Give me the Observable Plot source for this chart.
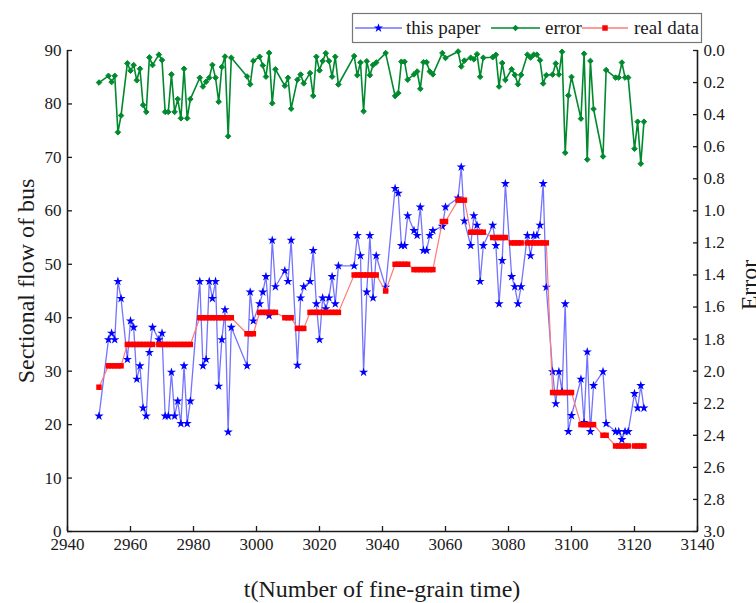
<!DOCTYPE html>
<html><head><meta charset="utf-8">
<script src="https://cdn.jsdelivr.net/npm/d3@7"></script>
<script src="https://cdn.jsdelivr.net/npm/@observablehq/plot@0.6"></script>
<style>body{margin:0;background:#fff}</style>
</head><body><div id="chart"></div>
<script>
const t = [2950,2953,2954,2955,2956,2957,2959,2960,2961,2962,2963,2964,2965,2966,2967,2969,2970,2971,2972,2973,2974,2975,2976,2977,2978,2979,2982,2983,2984,2985,2986,2987,2988,2989,2990,2991,2992,
2997,2998,2999,3001,3002,3003,3004,3005,3006,3009,3010,3011,3013,3014,3015,3017,3018,3019,3020,3021,3022,3023,3024,3025,3026,3031,3032,3033,3034,3035,3036,3037,3038,3041,
3044,3045,3046,3047,3048,3050,3051,3052,3053,3054,3055,3056,3059,3060,3064,3065,3066,3068,3069,3070,3071,3072,3075,3076,3077,3078,3079,3081,3082,3083,3084,3086,3087,3088,3089,3090,3091,3092,
3094,3095,3096,3097,3098,3099,3100,3103,3104,3105,3106,3107,3110,3111,3114,3115,3116,3117,3118,3120,3121,3122,3123];
const flow = [21.6,35.9,37.1,35.9,46.8,43.6,32.2,39.4,38.2,28.5,31.0,23.1,21.6,33.5,38.2,35.9,37.1,21.6,21.6,29.8,21.6,24.4,20.2,31.0,20.2,24.4,46.8,31.0,32.2,46.8,43.6,46.8,27.2,35.9,41.5,18.6,38.2,
31.0,44.8,39.4,42.6,44.8,47.7,40.4,54.5,45.8,48.8,46.8,54.5,31.1,43.7,45.8,46.8,52.6,42.6,35.9,43.7,41.7,43.7,47.7,42.6,49.7,49.7,55.4,51.6,29.8,44.8,55.4,43.7,51.6,45.7,
64.2,63.3,53.5,53.5,59.1,56.3,55.4,60.7,52.6,52.6,55.4,56.3,57.1,60.7,62.4,68.2,58.1,53.5,59.1,57.3,46.8,53.5,57.3,53.5,42.6,50.7,65.1,47.7,45.8,42.6,45.8,55.4,51.6,55.4,55.4,57.3,65.1,45.7,
29.9,23.9,29.9,26.2,42.6,18.7,21.7,28.5,20.4,33.6,18.7,27.3,29.9,20.2,18.7,18.7,17.2,18.7,18.7,25.8,23.1,27.3,23.1];
const real = [27,31,31,31,31,31,35,35,35,35,35,35,35,35,35,35,35,35,35,35,35,35,35,35,35,35,40,40,40,40,40,40,40,40,40,40,40,
37,37,37,41,41,41,41,41,41,40,40,40,38,38,38,41,41,41,41,41,41,41,41,41,41,48,48,48,48,48,48,48,48,45,
50,50,50,50,50,49,49,49,49,49,49,49,58,58,62,62,62,56,56,56,56,56,55,55,55,55,55,54,54,54,54,54,54,54,54,54,54,54,
26,26,26,26,26,26,26,20,20,20,20,20,18,18,16,16,16,16,16,16,16,16,16];
const err = [0.200,0.158,0.197,0.158,0.510,0.406,0.080,0.126,0.091,0.186,0.114,0.340,0.383,0.043,0.091,0.026,0.060,0.383,0.383,0.149,0.383,0.303,0.423,0.114,0.423,0.303,0.170,0.225,0.195,0.170,0.090,0.170,0.320,0.103,0.038,0.535,0.045,
0.162,0.211,0.065,0.039,0.093,0.163,0.015,0.329,0.117,0.220,0.170,0.363,0.182,0.150,0.205,0.141,0.283,0.039,0.124,0.066,0.017,0.066,0.163,0.039,0.212,0.035,0.154,0.075,0.379,0.067,0.154,0.090,0.075,0.016,
0.284,0.266,0.070,0.070,0.182,0.149,0.131,0.239,0.073,0.073,0.131,0.149,0.016,0.047,0.006,0.100,0.063,0.045,0.055,0.023,0.164,0.045,0.042,0.027,0.225,0.078,0.184,0.117,0.152,0.211,0.152,0.026,0.044,0.026,0.026,0.061,0.206,0.154,
0.150,0.081,0.150,0.008,0.638,0.281,0.165,0.425,0.020,0.680,0.065,0.365,0.661,0.122,0.169,0.169,0.075,0.169,0.169,0.613,0.444,0.706,0.444];
const xTicks = [2940,2960,2980,3000,3020,3040,3060,3080,3100,3120,3140];
const yTicks = [0,10,20,30,40,50,60,70,80,90];
const errTicks = [0,0.2,0.4,0.6,0.8,1.0,1.2,1.4,1.6,1.8,2.0,2.2,2.4,2.6,2.8,3.0];
const legendLabels = ["this paper","error","real data"];
const titles = {x:"t(Number of fine-grain time)", y:"Sectional flow of bus", y2:"Error"};

const errToY = e => 90 - e * 30;
const rows = t.map((x, i) => ({t: x, flow: flow[i], real: real[i], err: err[i]}));
const FONT = "'Liberation Serif', 'DejaVu Serif', serif";
const ink = "#1a1a1a";
const cBlue = "#0000ff", cGreen = "#008a2e", cRedLine = "#ff7a7a", cRed = "#ff0000";

const svg = Plot.plot({
  width: 756, height: 603,
  marginLeft: 67, marginRight: 59, marginTop: 50, marginBottom: 72,
  x: {domain: [2940, 3140]},
  y: {domain: [0, 90]},
  style: {fontFamily: FONT, fontSize: "17px", color: ink, background: "#fff", overflow: "visible"},
  marks: [
    Plot.axisX({ticks: xTicks, tickFormat: d => String(d), tickSize: -5, tickPadding: 11, label: null, strokeWidth: 1.3}),
    Plot.axisY({anchor: "left", ticks: yTicks, tickSize: -5, tickPadding: 11, label: null, strokeWidth: 1.3}),
    Plot.axisY({anchor: "right", ticks: errTicks.map(errToY), tickFormat: y => ((90 - y) / 30).toFixed(1), tickSize: -5, tickPadding: 11, label: null, strokeWidth: 1.3}),
    Plot.ruleX([2940, 3140], {stroke: ink, strokeWidth: 1.6}),
    Plot.ruleY([0], {stroke: ink, strokeWidth: 1.6}),
    Plot.line(rows, {x: "t", y: "flow", stroke: cBlue, strokeOpacity: 0.55, strokeWidth: 1.3}),
    Plot.dot(rows, {x: "t", y: "flow", symbol: "star", fill: cBlue, r: 2.9}),
    Plot.line(rows, {x: "t", y: d => errToY(d.err), stroke: cGreen, strokeWidth: 1.6}),
    Plot.dot(rows, {x: "t", y: d => errToY(d.err), symbol: "diamond2", fill: cGreen, stroke: cGreen, strokeWidth: 1, r: 2.5}),
    Plot.line(rows, {x: "t", y: "real", stroke: cRedLine, strokeWidth: 1.2}),
    Plot.dot(rows, {x: "t", y: "real", symbol: "square", fill: cRed, r: 3.1})
  ]
});

const s = d3.select(svg);
const txt = (g) => g.attr("font-family", FONT).attr("fill", ink);
s.append("text").call(txt).attr("font-size", 24).attr("text-anchor", "middle")
  .attr("transform", "translate(34,281) rotate(-90)").text(titles.y);
s.append("text").call(txt).attr("font-size", 24).attr("text-anchor", "middle")
  .attr("x", 382).attr("y", 597).text(titles.x);
s.append("text").call(txt).attr("font-size", 24).attr("text-anchor", "middle")
  .attr("transform", "translate(757,285) rotate(-90)").text(titles.y2);

// legend
const lg = s.append("g");
lg.append("rect").attr("x", 352.5).attr("y", 13.5).attr("width", 349).attr("height", 29)
  .attr("fill", "#fff").attr("stroke", "#777").attr("stroke-width", 1.2);
const items = [
  {x0: 355, x1: 402, c: cBlue, op: 0.55, sym: d3.symbolStar, size: Math.PI * 2.9 * 2.9, fill: cBlue, tx: 406},
  {x0: 491, x1: 540, c: cGreen, op: 1, sym: d3.symbolDiamond2, size: Math.PI * 2.5 * 2.5, fill: cGreen, tx: 545},
  {x0: 582, x1: 628, c: cRedLine, op: 1, sym: d3.symbolSquare, size: Math.PI * 3.1 * 3.1, fill: cRed, tx: 634}
];
items.forEach((it, i) => {
  lg.append("line").attr("x1", it.x0).attr("x2", it.x1).attr("y1", 28).attr("y2", 28)
    .attr("stroke", it.c).attr("stroke-opacity", it.op).attr("stroke-width", i === 1 ? 1.6 : 1.3);
  lg.append("path").attr("d", d3.symbol(it.sym, it.size)()).attr("transform", `translate(${(it.x0 + it.x1) / 2},28)`)
    .attr("fill", it.fill).attr("stroke", i === 1 ? cGreen : "none");
  lg.append("text").call(txt).attr("font-size", 19).attr("text-anchor", "start")
    .attr("x", it.tx).attr("y", 34).text(legendLabels[i]);
});

document.getElementById("chart").appendChild(svg);
</script>
</body></html>
